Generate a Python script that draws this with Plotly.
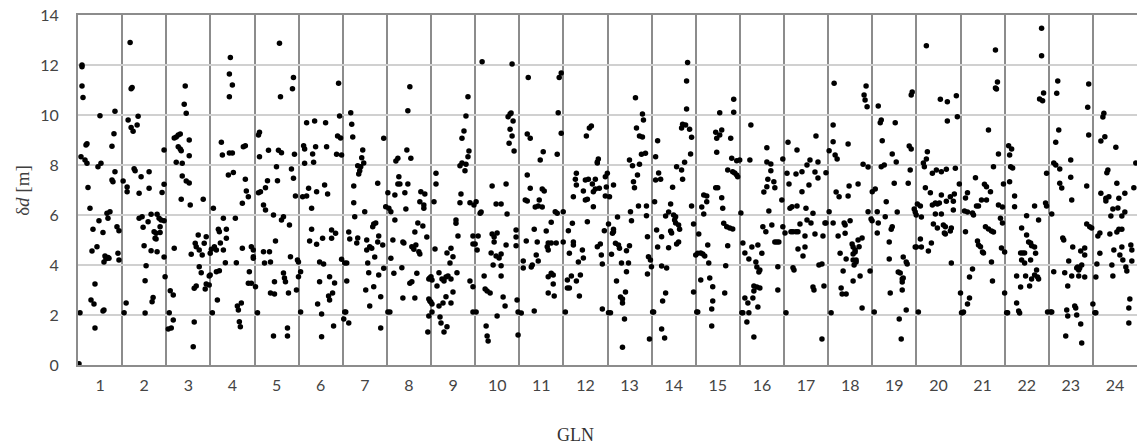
import plotly.graph_objects as go

# GLONASS slot numbers (one block of epochs per satellite)
gln_labels = [str(i) for i in range(1, 25)]
y_ticks = [0, 2, 4, 6, 8, 10, 12, 14]
EPOCHS_PER_GLN = 44.17

# (epoch within block, delta d [m]) for every satellite
g01 = [(4,12.0),(4,11.93),(4,11.16),(5,10.7),(22,9.97),(37,10.15),(9,8.85),(8,8.8),(36,9.25),(34,8.75),(3,8.33),(7,8.2),(9,8.07),(20,7.93),(23,8.07),(37,7.73),(34,7.4),(35,7.33),(10,7.1),(1,0.05),(2,2.09),(12,6.27),(15,5.43),(21,5.77),(25,5.3),(29,6.07),(32,6.13),(30,5.87),(14,4.56),(19,4.73),(27,4.36),(28,4.25),(30,4.3),(31,4.27),(26,4.12),(39,5.53),(41,5.37),(40,4.47),(41,4.2),(17,3.24),(13,2.6),(16,2.44),(25,2.16),(26,2.2),(17,1.48)]
g02 = [(8,12.9),(9,11.05),(10,11.1),(6,9.8),(16,9.95),(9,9.5),(11,9.35),(15,9.6),(42,8.6),(1,7.36),(5,7.12),(5,6.93),(12,7.85),(13,7.77),(19,7.53),(17,6.87),(27,7.73),(27,7.07),(40,6.9),(42,7.23),(2,2.09),(4,2.48),(17,5.87),(20,5.93),(21,5.51),(26,5.73),(29,6.03),(35,6.03),(37,5.87),(39,5.8),(42,5.77),(38,5.53),(38,5.3),(32,5.33),(34,5.27),(33,5.07),(34,5.04),(22,4.77),(29,4.57),(35,4.53),(42,4.32),(24,3.97),(23,3.37),(31,2.7),(30,2.53),(23,2.08),(43,3.53)]
g03 = [(19,11.16),(18,10.43),(20,10.07),(8,9.08),(10,9.12),(12,9.2),(14,9.24),(23,9.0),(12,8.73),(14,8.64),(15,8.57),(23,8.37),(10,8.11),(16,8.07),(16,7.56),(20,7.36),(23,7.28),(15,6.63),(37,6.63),(3,2.09),(2,1.44),(5,1.48),(7,1.8),(4,2.97),(7,2.8),(8,4.67),(24,6.4),(25,4.43),(28,3.07),(30,3.16),(28,1.72),(27,0.73),(32,5.2),(29,4.87),(30,4.73),(38,4.87),(40,5.13),(33,4.6),(36,4.4),(33,3.93),(35,3.69),(39,3.04),(40,3.24),(43,3.2),(43,3.56),(44,3.6),(44,4.47)]
g04 = [(20,12.3),(19,11.64),(22,11.2),(19,10.73),(11,8.91),(12,8.4),(19,8.48),(22,8.48),(33,8.73),(35,8.77),(18,7.6),(23,7.7),(35,7.43),(36,6.96),(38,6.73),(2,2.09),(3,6.27),(1,4.63),(4,4.73),(6,4.6),(10,4.88),(13,5.87),(8,5.43),(9,5.33),(16,5.43),(16,5.07),(13,4.6),(15,4.09),(6,3.73),(9,3.77),(7,2.6),(25,5.87),(26,4.09),(32,6.47),(32,4.67),(27,2.36),(28,2.2),(31,2.48),(29,1.73),(30,1.53),(38,3.27),(41,3.27),(39,3.73),(41,4.73),(43,4.6),(43,4.33),(43,4.27)]
g05 = [(25,12.87),(39,11.5),(38,11.05),(26,10.73),(5,9.31),(4,9.2),(5,8.33),(14,8.59),(24,8.59),(27,8.49),(40,8.43),(22,7.93),(37,7.84),(6,6.93),(4,6.89),(13,7.37),(11,7.09),(23,7.37),(39,7.47),(41,6.76),(3,2.09),(1,3.13),(9,6.4),(11,6.2),(9,4.53),(15,4.53),(10,4.08),(16,4.12),(21,4.96),(19,6.0),(29,5.93),(27,5.8),(35,5.6),(20,3.33),(16,2.88),(20,2.84),(29,3.68),(30,3.48),(31,3.33),(34,2.88),(36,4.33),(19,1.16),(33,1.48),(33,1.16),(42,3.0),(43,4.2),(44,4.12),(44,3.53)]
g06 = [(8,9.69),(16,9.76),(27,9.69),(40,11.27),(41,9.96),(5,8.77),(6,8.64),(14,8.44),(17,8.73),(6,8.07),(15,8.11),(28,8.73),(39,9.16),(42,9.08),(38,8.43),(43,8.4),(10,7.07),(4,6.73),(8,6.76),(18,6.93),(26,7.2),(29,6.84),(2,2.12),(13,6.27),(13,5.43),(11,4.96),(18,4.83),(24,5.07),(33,5.4),(37,5.27),(33,5.07),(21,4.12),(25,4.04),(21,3.33),(31,3.53),(36,3.28),(19,2.44),(23,2.04),(30,2.76),(31,2.6),(34,2.88),(35,1.56),(23,1.13),(43,4.23),(2,3.73)]
g07 = [(8,10.09),(9,9.63),(10,9.12),(20,8.6),(19,8.29),(21,8.08),(15,7.97),(18,7.93),(17,7.77),(16,7.64),(11,7.16),(35,7.27),(41,9.07),(2,2.12),(3,2.12),(1,1.84),(6,1.68),(11,6.49),(12,5.93),(22,6.13),(6,5.32),(7,5.04),(14,4.88),(15,5.08),(24,5.0),(24,4.6),(30,5.53),(31,5.64),(33,5.68),(36,5.16),(35,4.92),(29,4.67),(27,4.73),(25,4.08),(32,4.32),(4,3.36),(4,4.08),(26,3.69),(23,3.0),(31,3.13),(36,3.6),(38,2.73),(40,4.8),(41,3.87),(27,2.36),(38,1.48),(43,6.33),(2,4.08)]
g08 = [(23,11.13),(21,10.17),(20,8.6),(24,8.27),(9,8.16),(11,8.27),(12,7.53),(11,7.24),(13,7.24),(21,7.24),(18,6.89),(8,6.8),(34,6.93),(38,6.84),(1,6.89),(1,2.12),(3,2.12),(8,5.8),(4,4.27),(6,5.0),(7,3.67),(15,3.89),(16,2.68),(16,4.92),(17,4.88),(19,6.24),(25,4.73),(29,4.8),(27,4.63),(28,5.32),(32,4.53),(33,4.44),(31,5.68),(36,5.56),(40,5.12),(33,6.53),(37,6.4),(37,6.27),(30,3.67),(25,3.33),(23,3.27),(28,2.68),(42,3.44),(43,3.48),(42,2.64),(43,2.56),(42,1.96),(41,1.32),(2,6.27),(4,6.13),(44,2.52)]
g09 = [(5,7.67),(5,7.24),(37,10.73),(35,9.96),(33,9.36),(31,9.07),(38,8.56),(37,8.33),(31,8.08),(29,7.97),(35,8.03),(34,7.77),(30,6.84),(1,2.12),(3,6.53),(0,3.53),(1,3.4),(1,2.44),(4,4.64),(6,3.16),(8,3.69),(8,2.36),(9,1.92),(10,1.68),(13,1.32),(16,1.53),(12,2.48),(15,2.73),(11,3.44),(13,3.36),(15,3.52),(17,3.56),(20,3.44),(16,4.48),(20,4.67),(22,4.33),(19,4.08),(22,2.92),(20,2.48),(26,3.69),(27,5.16),(25,5.8),(25,5.67),(29,6.49),(39,3.36),(42,3.13),(39,6.49),(43,6.4),(42,5.16),(42,4.84),(42,2.12)]
g10 = [(7,12.13),(37,12.04),(33,9.93),(35,10.04),(36,10.08),(38,9.76),(35,9.43),(37,9.16),(34,8.87),(39,8.56),(17,7.16),(31,7.24),(1,2.12),(1,6.53),(0,4.84),(3,5.16),(2,4.6),(5,6.07),(6,6.12),(9,3.56),(10,3.04),(12,2.96),(15,2.88),(11,1.56),(12,1.16),(13,0.96),(16,4.48),(17,5.24),(19,5.12),(22,5.28),(19,4.92),(18,4.0),(21,4.36),(22,1.96),(21,6.44),(26,6.44),(26,3.97),(24,4.28),(26,4.44),(26,3.56),(28,2.72),(30,2.36),(31,4.8),(32,6.04),(41,5.4),(41,5.12),(41,4.77),(42,2.6),(43,2.12),(43,1.2)]
g11 = [(9,11.5),(8,9.24),(11,9.07),(24,8.53),(21,8.2),(8,7.6),(11,7.07),(23,7.04),(25,6.96),(38,8.43),(39,10.09),(42,9.27),(40,11.5),(42,11.68),(20,6.6),(6,6.6),(2,2.08),(7,4.96),(4,4.16),(4,3.88),(8,6.56),(16,6.32),(19,6.36),(23,6.32),(15,5.43),(18,4.92),(12,3.92),(13,4.0),(17,4.4),(19,4.16),(15,2.16),(27,5.36),(28,4.73),(29,4.6),(29,4.88),(32,4.88),(37,4.88),(32,5.71),(36,6.13),(38,6.07),(29,3.53),(32,3.67),(34,3.6),(29,2.88),(34,3.24),(35,2.76),(44,6.13),(44,4.92)]
g12 = [(13,7.67),(12,7.43),(13,7.2),(10,6.73),(23,9.16),(26,9.48),(28,9.56),(34,8.12),(35,8.24),(34,8.08),(22,7.4),(25,7.43),(29,7.24),(32,7.43),(20,6.96),(30,6.93),(32,7.04),(24,6.63),(36,7.07),(42,7.53),(44,7.67),(43,7.12),(42,6.76),(2,2.12),(4,3.08),(6,3.08),(4,3.4),(9,5.67),(10,4.92),(10,4.8),(6,4.47),(8,3.56),(15,4.12),(5,5.37),(13,3.36),(17,3.6),(16,2.76),(19,4.6),(20,4.28),(24,5.73),(22,6.6),(30,6.33),(34,4.73),(37,4.84),(38,4.4),(39,4.04),(39,2.24),(41,5.37)]
g13 = [(28,10.69),(29,9.48),(32,9.16),(35,9.12),(35,10.04),(36,9.8),(34,8.43),(38,8.47),(22,8.2),(25,7.97),(32,8.03),(30,7.6),(26,7.33),(27,7.09),(2,6.73),(6,7.2),(1,2.09),(3,2.09),(1,5.64),(5,5.27),(6,5.43),(6,5.33),(4,4.43),(10,5.92),(8,4.87),(11,4.8),(12,4.67),(14,4.08),(21,4.08),(19,4.57),(22,4.77),(19,3.73),(9,3.36),(13,2.72),(15,2.64),(15,2.48),(18,2.92),(17,1.84),(15,0.71),(23,6.13),(24,5.77),(31,6.36),(39,6.36),(39,5.97),(40,5.13),(41,4.33),(43,4.2),(44,3.93),(40,3.64),(42,1.04)]
g14 = [(36,12.1),(35,11.36),(35,10.24),(31,9.63),(34,9.6),(30,9.48),(38,9.43),(40,9.11),(39,8.44),(33,8.11),(6,8.97),(4,8.33),(7,7.68),(9,7.43),(4,7.4),(25,7.93),(30,7.8),(31,7.43),(21,7.11),(1,2.12),(2,2.12),(3,6.53),(5,5.4),(6,4.72),(10,5.13),(10,3.96),(15,3.88),(11,2.56),(14,2.88),(10,1.44),(13,1.08),(14,5.96),(17,6.12),(19,6.44),(19,5.36),(20,5.28),(17,4.69),(22,6.0),(24,5.93),(23,5.8),(24,5.68),(27,5.6),(28,5.43),(27,4.92),(25,4.84),(40,6.36),(42,5.64),(42,2.92)]
g15 = [(24,10.09),(20,9.31),(21,9.07),(26,9.4),(24,9.2),(21,8.51),(38,10.63),(38,10.11),(35,9.07),(36,8.27),(41,8.17),(44,8.2),(32,7.8),(37,7.73),(39,7.68),(41,7.6),(42,7.53),(20,7.09),(22,7.09),(8,6.8),(11,6.76),(26,6.69),(1,2.12),(2,2.12),(0,4.4),(2,4.47),(5,4.48),(7,4.44),(9,4.36),(3,5.24),(6,6.32),(8,6.04),(11,6.53),(5,3.4),(12,4.8),(13,4.08),(14,3.48),(17,3.13),(17,2.56),(16,2.24),(16,1.56),(27,6.27),(28,5.67),(31,5.53),(34,5.48),(37,5.44),(32,4.77),(30,3.97),(29,2.88)]
g16 = [(11,9.6),(10,8.2),(27,8.69),(27,8.12),(31,8.04),(31,7.77),(28,7.43),(34,7.33),(35,7.09),(27,7.13),(24,6.92),(43,8.24),(42,6.6),(1,6.08),(3,4.88),(5,4.48),(9,4.24),(2,2.09),(3,2.09),(5,2.68),(8,2.48),(9,2.09),(7,1.72),(12,4.72),(13,2.68),(14,1.12),(16,4.12),(17,3.92),(20,3.8),(19,3.72),(14,3.16),(17,3.12),(20,3.08),(14,2.96),(18,2.32),(18,4.8),(22,4.47),(23,5.53),(26,5.33),(29,6.16),(32,5.6),(35,4.92),(37,4.92),(39,4.92),(38,3.93),(38,3.0),(43,5.53)]
g17 = [(4,8.91),(13,8.6),(3,7.67),(5,7.24),(12,7.64),(18,7.73),(23,8.0),(26,8.2),(32,9.16),(34,8.12),(31,7.72),(34,7.48),(25,7.2),(18,6.93),(42,7.69),(1,5.28),(2,2.09),(6,6.27),(8,6.33),(7,5.33),(9,5.33),(12,5.33),(14,5.33),(13,6.36),(9,3.89),(10,3.8),(14,4.64),(16,5.64),(19,4.36),(21,4.72),(21,5.16),(22,6.27),(23,5.8),(27,5.68),(29,6.07),(31,5.24),(29,3.12),(30,3.0),(35,4.0),(38,4.04),(40,3.16),(38,1.04),(39,5.16),(41,5.68),(42,5.68)]
g18 = [(6,11.27),(5,9.6),(5,8.93),(20,8.84),(1,8.57),(7,8.4),(9,8.24),(8,6.92),(11,6.73),(20,6.76),(21,7.16),(30,7.24),(38,11.16),(36,10.8),(37,10.6),(39,10.33),(35,8.03),(40,7.92),(1,6.13),(3,2.09),(5,5.68),(10,5.16),(12,4.47),(13,3.08),(14,2.84),(18,2.84),(15,3.76),(16,5.68),(17,5.27),(22,5.77),(18,4.24),(25,3.36),(24,4.84),(25,4.72),(25,4.44),(27,4.52),(25,4.2),(28,4.12),(26,4.0),(30,5.0),(17,5.6),(27,4.6),(31,4.73),(34,5.08),(28,4.2),(32,3.56),(34,2.28),(42,3.76),(40,6.13),(43,5.84),(44,5.77)]
g19 = [(6,10.36),(9,9.8),(8,9.69),(23,9.69),(10,8.97),(20,8.44),(24,8.12),(9,7.93),(12,8.0),(37,8.76),(39,8.64),(39,10.8),(40,10.92),(38,7.8),(22,7.27),(36,7.27),(0,6.93),(3,7.04),(2,2.12),(5,6.13),(5,5.28),(6,5.68),(14,6.53),(13,5.93),(17,4.92),(19,5.43),(20,5.53),(17,4.24),(18,2.88),(25,6.12),(26,3.72),(28,3.68),(31,4.32),(34,4.12),(35,4.04),(30,3.44),(31,3.48),(30,3.32),(30,3.0),(34,2.2),(27,1.84),(29,1.04),(42,6.24),(44,6.0),(43,6.12),(43,4.72)]
g20 = [(10,12.77),(24,10.63),(31,10.53),(40,10.77),(41,9.93),(31,9.76),(11,8.53),(10,8.24),(7,8.08),(8,7.93),(16,7.67),(20,7.8),(25,7.73),(30,7.83),(39,7.87),(9,7.09),(14,6.89),(25,6.8),(34,6.73),(38,6.84),(43,7.24),(2,2.12),(1,6.44),(4,6.36),(4,5.04),(5,4.72),(0,4.72),(5,5.92),(12,4.56),(15,4.88),(16,6.4),(19,6.48),(21,6.44),(23,6.48),(19,6.04),(25,6.04),(17,5.64),(21,5.48),(27,5.6),(29,5.53),(28,5.28),(29,5.24),(34,5.36),(35,5.48),(35,4.08),(37,6.2),(37,6.55),(30,6.55)]
g21 = [(28,9.4),(35,12.6),(37,11.32),(35,11.08),(36,11.04),(38,8.44),(33,7.93),(15,7.49),(24,7.23),(26,7.13),(30,6.93),(7,6.89),(5,6.68),(21,6.6),(26,6.6),(43,7.24),(1,2.09),(2,2.09),(3,2.12),(0,2.88),(7,2.44),(9,2.68),(5,5.33),(4,6.16),(7,6.12),(12,6.08),(13,6.0),(9,3.52),(12,3.84),(16,6.36),(18,6.36),(17,4.96),(18,4.8),(20,4.73),(22,4.52),(23,4.48),(25,5.53),(28,5.44),(31,5.36),(33,5.32),(31,4.12),(32,3.36),(38,6.4),(42,6.32),(40,5.87),(42,5.68),(41,4.68)]
g22 = [(4,8.77),(7,8.64),(5,8.4),(6,7.93),(8,7.88),(5,7.33),(10,6.76),(37,13.47),(37,12.37),(39,10.88),(35,10.64),(38,10.57),(42,7.67),(0,4.52),(0,2.88),(2,2.09),(3,2.09),(10,6.33),(12,3.56),(12,2.48),(14,2.16),(15,2.08),(16,3.12),(16,4.48),(18,4.48),(20,4.48),(17,5.48),(17,4.2),(20,4.08),(21,3.56),(22,5.97),(22,5.2),(24,4.92),(26,4.88),(27,4.77),(30,4.72),(26,4.2),(25,3.16),(27,3.44),(30,3.6),(30,6.36),(31,4.47),(32,3.8),(34,3.44),(33,3.52),(34,5.8),(41,6.48),(42,6.36),(43,2.12)]
g23 = [(9,11.36),(8,10.87),(40,11.24),(39,10.31),(10,9.4),(7,8.91),(40,9.2),(5,8.08),(7,8.0),(11,7.84),(22,8.2),(22,7.51),(11,7.27),(13,7.08),(38,7.16),(23,6.6),(2,2.12),(3,2.12),(3,6.04),(5,3.73),(14,5.08),(15,5.0),(16,3.69),(20,4.16),(19,3.16),(18,2.2),(19,1.96),(17,1.16),(24,4.72),(23,3.56),(26,2.36),(27,2.28),(28,2.0),(28,3.88),(29,3.92),(31,3.88),(30,3.8),(30,3.56),(32,4.56),(32,1.64),(33,0.88),(33,4.0),(36,4.68),(36,4.4),(36,3.52),(38,5.64),(41,5.53),(43,5.48)]
g24 = [(11,10.07),(10,9.92),(12,9.13),(8,8.96),(23,8.71),(15,7.8),(14,7.69),(24,7.27),(8,6.87),(13,6.67),(16,6.73),(26,6.67),(32,6.87),(41,7.09),(43,8.08),(0,2.44),(2,2.09),(3,2.09),(3,3.52),(4,4.04),(5,5.16),(7,5.28),(7,4.47),(13,6.56),(18,5.96),(20,6.24),(17,5.24),(19,4.0),(20,3.56),(21,4.6),(24,5.32),(26,5.43),(29,5.43),(25,6.28),(29,5.96),(32,6.12),(27,4.4),(30,4.2),(29,4.72),(33,3.92),(34,3.76),(38,4.8),(39,4.6),(39,4.16),(37,2.64),(36,2.28),(36,1.68)]

groups = [g01, g02, g03, g04, g05, g06, g07, g08, g09, g10, g11, g12,
          g13, g14, g15, g16, g17, g18, g19, g20, g21, g22, g23, g24]

xs, ys = [], []
for i, g in enumerate(groups):
    for t, d in g:
        xs.append(i + t / EPOCHS_PER_GLN)
        ys.append(d)

n = len(gln_labels)
centers = [i + 0.5 for i in range(n)]

fig = go.Figure()
fig.add_trace(go.Scatter(
    x=xs, y=ys, mode="markers",
    marker=dict(color="black", size=5.5, line=dict(width=0)),
    cliponaxis=False, showlegend=False, hoverinfo="skip",
))

tick_font = dict(family="Lato, 'Open Sans', sans-serif", size=16, color="#444444")
serif = "'Liberation Serif', 'DejaVu Serif', serif"

fig.update_layout(
    width=1137, height=448,
    margin=dict(l=78, r=0, t=15, b=83),
    paper_bgcolor="white", plot_bgcolor="white",
    hovermode=False,
    xaxis=dict(
        range=[0, n], tickmode="array", tickvals=centers, ticktext=gln_labels,
        showgrid=False, zeroline=False, ticks="",
        tickfont=tick_font, ticklabelstandoff=5,
        showline=True, linecolor="#8c8c8c", linewidth=2, mirror=True,
        minor=dict(tickmode="linear", tick0=0, dtick=1, showgrid=True,
                   gridcolor="#8c8c8c", gridwidth=2, ticks=""),
    ),
    yaxis=dict(
        range=[0, 14], tickmode="array", tickvals=y_ticks,
        showgrid=True, gridcolor="#d0d0d0", gridwidth=2, zeroline=False,
        ticks="", tickfont=tick_font, ticklabelstandoff=14,
        ticklabeloverflow="allow",
        showline=True, linecolor="#8c8c8c", linewidth=2,
    ),
    annotations=[
        dict(text="GLN", xref="paper", yref="paper", x=0.47, y=-0.2,
             xanchor="center", yanchor="middle", showarrow=False,
             font=dict(family=serif, size=18, color="#333333")),
        dict(text="δ<i>d</i> [m]", xref="paper", yref="paper", x=-0.053, y=0.5,
             xanchor="center", yanchor="middle", showarrow=False, textangle=-90,
             font=dict(family=serif, size=19, color="#404040")),
    ],
)

# remove the browser's default 8 px body margin so the figure fills the window
fig.write_html("out.html", config={"displayModeBar": False, "staticPlot": True},
               post_script="document.body.style.margin='0';")
